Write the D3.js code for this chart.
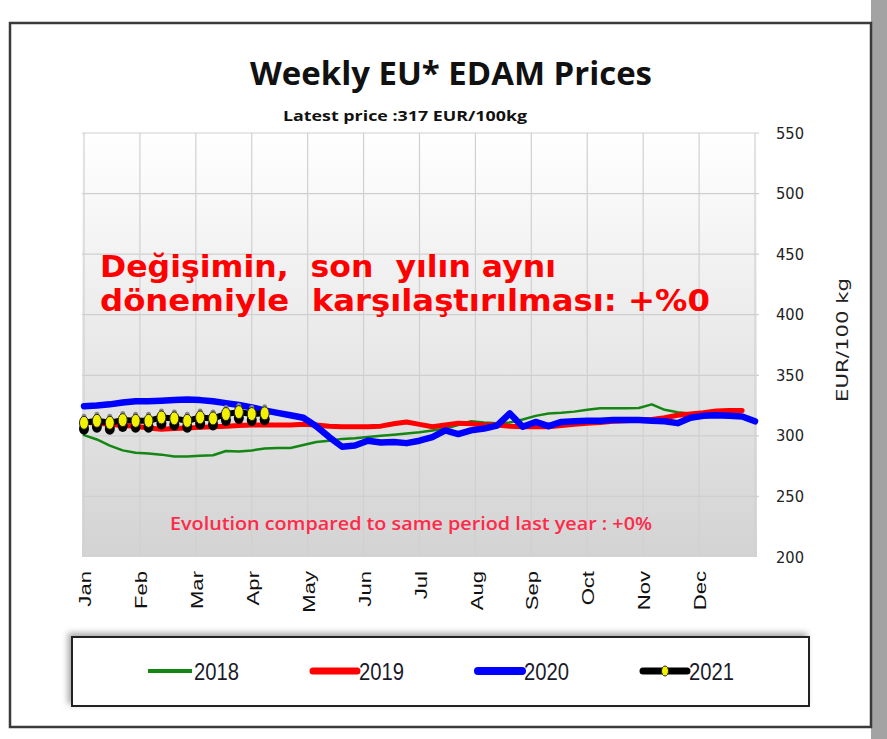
<!DOCTYPE html>
<html>
<head>
<meta charset="utf-8">
<script src="https://cdn.jsdelivr.net/npm/d3@7"></script>
<style>
  body { margin: 0; background: #fff }
  svg { display: block }
</style>
</head>
<body>
<script>
// month labels and y ticks
const months = ['Jan', 'Feb', 'Mar', 'Apr', 'May', 'Jun', 'Jul', 'Aug', 'Sep', 'Oct', 'Nov', 'Dec']
const y_ticks = [200, 250, 300, 350, 400, 450, 500, 550]
const years = ['2018', '2019', '2020', '2021']

// weekly prices, EUR/100kg, week 1 first
const prices_2018 = [300.6, 297, 292, 288, 286, 285.5, 284.5, 283, 283, 283.5, 284, 287.5, 287, 288,
  289.5, 290, 290, 292.5, 295, 296, 297.5, 298, 299, 300, 301, 302, 303, 304.5, 306, 309, 312, 311,
  310.5, 311, 313.5, 316.5, 318.5, 319, 320, 321.5, 322.7, 322.7, 322.7, 323, 326, 321.5, 319.5,
  318.5, 317.5, 316, 315.5, 315.5]
const prices_2019 = [311.5, 310.5, 309.5, 308.5, 308, 306.5, 305.5, 306, 306.5, 307, 307.5, 308, 308.5,
  309, 309, 309, 309, 309.5, 309, 308, 307.5, 307.5, 307.5, 308, 310, 311.5, 309.5, 307.5, 309, 310.5,
  310, 309, 309, 308, 307.5, 307.5, 307.5, 308.5, 309.5, 310.5, 311, 312, 312.5, 313, 313.5, 315, 317,
  318, 319, 320.5, 321, 321]
const prices_2020 = [324.5, 325, 326, 327.5, 328.5, 328.5, 329, 329.5, 330, 329.5, 328.5, 327, 325.5,
  323.5, 321, 319, 317, 315, 308, 299, 291, 292, 296, 294.5, 295, 294, 296, 299, 304.5, 301.5, 304.5,
  306, 308.5, 318.5, 307.5, 311.5, 308, 311.5, 312, 312.5, 312.5, 313, 313, 313, 312.5, 312, 310.5,
  315, 316.5, 317, 316.5, 316, 312]
const prices_2021 = [310.8, 312.4, 310.8, 313, 312.4, 312.4, 315.2, 314.4, 312.4, 315.2, 314.4, 318,
  319.6, 318, 318.6]

const width = 887
const height = 739

const svg = d3.select('body').append('svg')
  .attr('width', width)
  .attr('height', height)

const x_month = d3.scaleLinear().domain([0, 12]).range([84, 755])
const x_week = d3.scaleLinear().domain([1, 53]).range([84, 755])
const y = d3.scaleLinear().domain([200, 550]).range([557, 133])

// stretch text along its baseline, the source picture is drawn taller than wide
function stretch(sel, k) {
  sel.each(function () {
    let len = this.getComputedTextLength()
    d3.select(this).attr('textLength', len * k).attr('lengthAdjust', 'spacingAndGlyphs')
  })
}

// right grey strip and outer frame
svg.append('rect').attr('x', 871).attr('y', 0).attr('width', 16).attr('height', height).attr('fill', '#a3a3a3')
svg.append('rect').attr('x', 10).attr('y', 23).attr('width', 861).attr('height', 704)
  .attr('fill', '#fff').attr('stroke', '#3a3a3a').attr('stroke-width', 2.5)

// titles
svg.append('text')
  .attr('x', 451).attr('y', 85)
  .attr('text-anchor', 'middle')
  .attr('font-family', 'Open Sans, sans-serif').attr('font-weight', 'bold').attr('font-size', 33)
  .attr('textLength', 402).attr('lengthAdjust', 'spacingAndGlyphs')
  .attr('fill', '#111')
  .text('Weekly EU* EDAM Prices')

svg.append('text')
  .attr('x', 405).attr('y', 121)
  .attr('text-anchor', 'middle')
  .attr('font-family', 'Open Sans, sans-serif').attr('font-weight', 'bold').attr('font-size', 15)
  .attr('textLength', 244).attr('lengthAdjust', 'spacingAndGlyphs')
  .attr('fill', '#111')
  .text('Latest price :317 EUR/100kg')

// plot background
const defs = svg.append('defs')
const grad = defs.append('linearGradient').attr('id', 'bg').attr('x1', 0).attr('y1', 0).attr('x2', 0).attr('y2', 1)
grad.append('stop').attr('offset', 0).attr('stop-color', '#ffffff')
grad.append('stop').attr('offset', 1).attr('stop-color', '#d3d3d3')

svg.append('rect')
  .attr('x', 82).attr('y', y(550))
  .attr('width', 675).attr('height', y(200) - y(550))
  .attr('fill', 'url(#bg)')

// grid
svg.append('g').selectAll('line').data(y_ticks.slice(1)).join('line')
  .attr('x1', 82).attr('x2', 759)
  .attr('y1', d => y(d)).attr('y2', d => y(d))
  .attr('stroke', '#cfcfcf').attr('stroke-width', 1.2)

svg.append('g').selectAll('line').data(d3.range(13)).join('line')
  .attr('x1', d => x_month(d)).attr('x2', d => x_month(d))
  .attr('y1', y(550)).attr('y2', y(200))
  .attr('stroke', '#d0d0d0').attr('stroke-width', 1.2)

// y axis on the right
const y_axis = svg.append('g')
  .attr('transform', 'translate(768,0)')
  .call(d3.axisRight(y).tickValues(y_ticks).tickSize(0).tickPadding(8))
y_axis.select('.domain').remove()
y_axis.selectAll('text')
  .attr('font-family', 'DejaVu Sans, sans-serif').attr('font-size', 16)
  .attr('textLength', 28).attr('lengthAdjust', 'spacingAndGlyphs')
  .attr('fill', '#222')

svg.append('text')
  .attr('transform', 'translate(848,340) rotate(-90)')
  .attr('text-anchor', 'middle')
  .attr('font-family', 'DejaVu Sans, sans-serif').attr('font-size', 16)
  .attr('textLength', 124).attr('lengthAdjust', 'spacingAndGlyphs')
  .attr('fill', '#222')
  .text('EUR/100 kg')

// month labels, rotated
svg.append('g').selectAll('text').data(months).join('text')
  .attr('transform', (d, i) => `translate(${x_month(i) + 1},571) rotate(-90)`)
  .attr('dy', '0.36em')
  .attr('text-anchor', 'end')
  .attr('font-family', 'Liberation Sans, Arial, sans-serif').attr('font-size', 17)
  .attr('fill', '#111')
  .text(d => d)
  .call(stretch, 1.3)

// series lines
const line = d3.line().x((d, i) => x_week(i + 1)).y(d => y(d))

const series = [
  { name: '2018', values: prices_2018, color: '#138613', width: 2.5 },
  { name: '2019', values: prices_2019, color: '#ff0000', width: 5 },
  { name: '2020', values: prices_2020, color: '#0000ff', width: 6.5 }
]

svg.append('g').selectAll('path').data(series).join('path')
  .attr('d', d => line(d.values))
  .attr('fill', 'none')
  .attr('stroke', d => d.color)
  .attr('stroke-width', d => d.width)
  .attr('stroke-linejoin', 'round')
  .attr('stroke-linecap', 'round')

// 2021 with markers
svg.append('path')
  .attr('d', line(prices_2021))
  .attr('fill', 'none').attr('stroke', '#000').attr('stroke-width', 6)
  .attr('stroke-linejoin', 'round')

const marks = svg.append('g').selectAll('g').data(prices_2021).join('g')
  .attr('transform', (d, i) => `translate(${x_week(i + 1)},${y(d)})`)
marks.append('ellipse').attr('cx', 0).attr('cy', 6).attr('rx', 5).attr('ry', 6).attr('fill', '#000')
marks.append('ellipse').attr('cx', 0).attr('cy', -6).attr('rx', 2.5).attr('ry', 3).attr('fill', '#888')
marks.append('ellipse').attr('rx', 4.5).attr('ry', 6.5)
  .attr('fill', '#f2f200').attr('stroke', '#222').attr('stroke-width', 1)

// annotation texts
const note = svg.append('text')
  .attr('font-family', 'DejaVu Sans, sans-serif').attr('font-weight', 'bold').attr('font-size', 30)
  .attr('fill', '#ff0000')
  .style('white-space', 'pre')
note.append('tspan').attr('x', 100).attr('y', 277)
  .attr('textLength', 456).attr('lengthAdjust', 'spacingAndGlyphs')
  .text('Değişimin,  son  yılın aynı')
note.append('tspan').attr('x', 100).attr('y', 311)
  .attr('textLength', 610).attr('lengthAdjust', 'spacingAndGlyphs')
  .text('dönemiyle  karşılaştırılması: +%0')

svg.append('text')
  .attr('x', 411).attr('y', 530)
  .attr('text-anchor', 'middle')
  .attr('font-family', 'Open Sans, sans-serif').attr('font-weight', 600).attr('font-size', 18)
  .attr('textLength', 482).attr('lengthAdjust', 'spacingAndGlyphs')
  .attr('fill', '#ff2a4a')
  .text('Evolution compared to same period last year : +0%')

// legend
const shadow = defs.append('filter').attr('id', 'shadow').attr('x', -0.1).attr('y', -0.3).attr('width', 1.2).attr('height', 1.6)
shadow.append('feDropShadow').attr('dx', -3).attr('dy', -3).attr('stdDeviation', 3).attr('flood-color', '#000').attr('flood-opacity', 0.35)

svg.append('rect')
  .attr('x', 72).attr('y', 637).attr('width', 737).attr('height', 69)
  .attr('fill', '#fff').attr('stroke', '#222').attr('stroke-width', 2)
  .attr('filter', 'url(#shadow)')

const legend_x = [148, 313, 478, 643]
const leg_styles = [
  { color: '#138613', width: 4 },
  { color: '#ff0000', width: 7 },
  { color: '#0000ff', width: 8 },
  { color: '#000', width: 7 }
]
const items = svg.append('g').selectAll('g').data(years).join('g')
  .attr('transform', (d, i) => `translate(${legend_x[i]},671)`)
items.append('line')
  .attr('x1', 0).attr('x2', 44)
  .attr('stroke', (d, i) => leg_styles[i].color)
  .attr('stroke-width', (d, i) => leg_styles[i].width)
  .attr('stroke-linecap', (d, i) => i == 0 ? 'butt' : 'round')
items.filter((d, i) => i == 3).append('ellipse')
  .attr('cx', 22).attr('rx', 3.5).attr('ry', 5)
  .attr('fill', '#f2f200').attr('stroke', '#222').attr('stroke-width', 1)
items.append('text')
  .attr('x', 46).attr('y', 9)
  .attr('font-family', 'Liberation Sans, Arial, sans-serif').attr('font-size', 23)
  .attr('textLength', 45).attr('lengthAdjust', 'spacingAndGlyphs')
  .attr('fill', '#1a1a2a')
  .text(d => d)
</script>
</body>
</html>
